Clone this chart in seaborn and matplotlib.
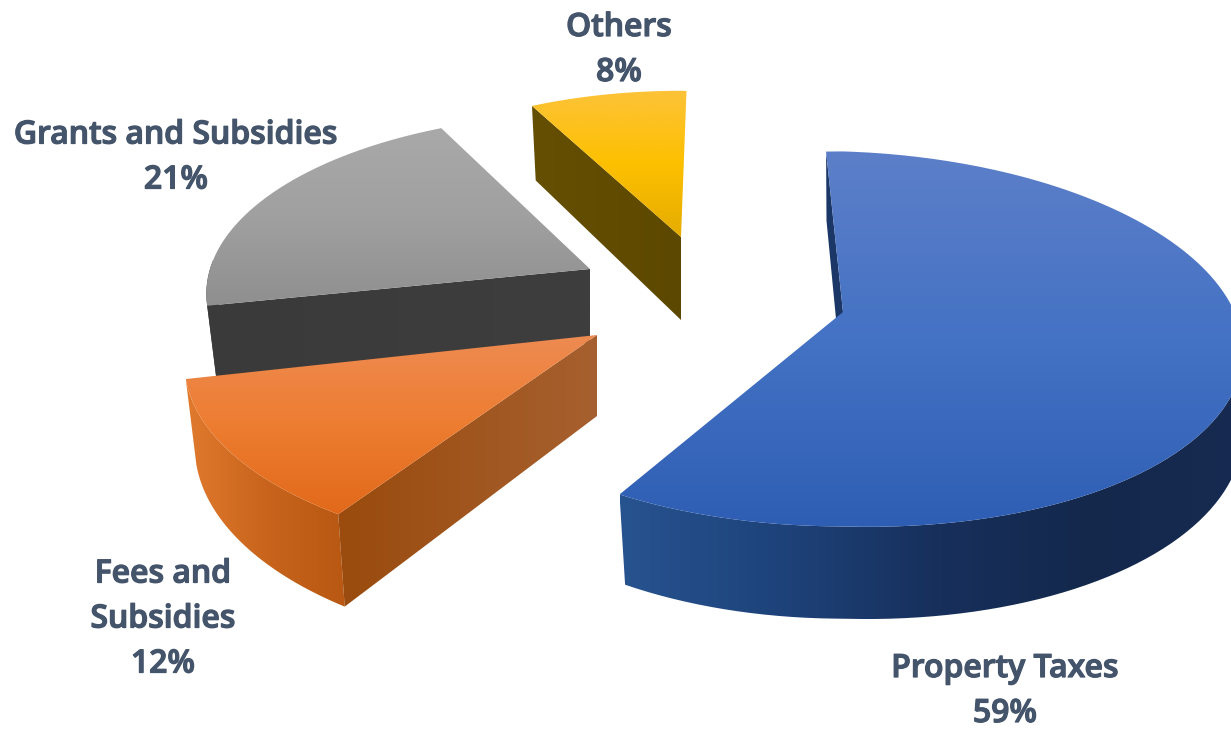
import numpy as np
import matplotlib
matplotlib.use("Agg")
import matplotlib.pyplot as plt
from matplotlib.path import Path
from matplotlib.patches import PathPatch
import matplotlib.patheffects as pe
import seaborn as sns

# Revenue shares
categories = ["Property Taxes", "Fees and\nSubsidies", "Grants and Subsidies", "Others"]
shares = [59, 12, 21, 8]

# Drawing styles, one entry per slice
APEX = [(843, 312), (597, 335), (590, 269), (681, 237)]
RADIUS = [0.99, 1.02, 0.95, 0.89]
DEPTH = [79, 81, 74, 83]
TURN = [0.0, 4.2, 5.5, 3.8]
LABEL_XY = [(1005, 691), (163, 619), (176, 157.5), (619, 50)]
TOP_COLORS = [
    ["#5d7fc9", "#4472c4", "#2e5eb4"],
    ["#ee8b52", "#ed7d31", "#e2691a"],
    ["#a9a9a9", "#a0a0a0", "#8f8f8f"],
    ["#fdc338", "#fdc000", "#e5ac00"],
]
WALL_COLORS = [
    ["#27538f", "#1e437b", "#17305c", "#14284c", "#172b52"],
    ["#e07a2e", "#c8641c", "#b85812"],
    ["#3b3b3b", "#3b3b3b"],
    ["#5f4a00", "#5f4a00"],
]
FACE_COLORS = [
    ["#1b3767", "#1b3767"],
    ["#9a4b0d", "#a6602f"],
    ["#3a3a3a", "#3e3e3e"],
    ["#654f02", "#5d4800"],
]
START_ANGLE = -2.8
SEMI_X, SEMI_Y, PERSPECTIVE = 400, 185.5, 0.145
RIGHT_SAG = 12
BOTTOM_SHRINK = 0.975
TEXT_COLOR = "#44546a"

sns.set_theme(style="white")
plt.rcParams["font.family"] = ["Open Sans", "DejaVu Sans"]

W, H = 1231, 732
fig = plt.figure(figsize=(W / 100, H / 100), dpi=100, facecolor="white")
ax = fig.add_axes([0, 0, 1, 1])


def rim(theta_deg, apex, radius):
    """Project points on a slice's rim onto the page, nearer parts drawn larger."""
    t = np.radians(theta_deg)
    u, v = radius * np.sin(t), radius * np.cos(t)
    f = 1 / (1 + PERSPECTIVE * v)
    x = apex[0] + SEMI_X * u * f
    y = apex[1] - SEMI_Y * v * f + RIGHT_SAG * np.maximum(u, 0) * f
    return x, y, f


def lower(x, y, f, apex, depth):
    """Move top-surface points down to the slice's lower surface."""
    left = x < apex[0]
    bx = np.where(left, apex[0] + (x - apex[0]) * BOTTOM_SHRINK, x)
    return bx, y + depth * f


def gradient_fill(xs, ys, colors, vertical, zorder):
    xs, ys = np.asarray(xs, float), np.asarray(ys, float)
    cmap = sns.blend_palette(colors, n_colors=256, as_cmap=True)
    ramp = np.linspace(0, 1, 256)
    ramp = ramp[:, None] if vertical else ramp[None, :]
    extent = (xs.min(), xs.max(), ys.max(), ys.min())
    img = ax.imshow(ramp, cmap=cmap, extent=extent, aspect="auto",
                    origin="upper", zorder=zorder, interpolation="bilinear")
    verts = np.column_stack([np.r_[xs, xs[0]], np.r_[ys, ys[0]]])
    patch = PathPatch(Path(verts, closed=False), transform=ax.transData,
                      facecolor="none", edgecolor="none")
    ax.add_patch(patch)
    img.set_clip_path(patch)


def draw_slice(i, start, end, base_z):
    apex, radius, depth = APEX[i], RADIUS[i], DEPTH[i]
    theta = np.linspace(start, end, 240)
    x, y, f = rim(theta, apex, radius)
    bx, by = lower(x, y, f, apex, depth)

    # Outer wall: only the part turned towards the viewer
    front = np.cos(np.radians(theta)) < 0.05
    if front.any():
        gradient_fill(np.r_[x[front], bx[front][::-1]], np.r_[y[front], by[front][::-1]],
                      WALL_COLORS[i], False, base_z)

    # Radial cut surface at the slice's leading edge
    gradient_fill([x[0], apex[0], apex[0], bx[0]], [y[0], apex[1], apex[1] + depth, by[0]],
                  FACE_COLORS[i], False, base_z + 0.1)

    # Top surface
    gradient_fill(np.r_[apex[0], x], np.r_[apex[1], y], TOP_COLORS[i], True, base_z + 0.2)


fractions = np.array(shares, float) / sum(shares) * 360
edges = START_ANGLE + np.r_[0, np.cumsum(fractions)]
paint_order = [3, 2, 1, 0]
for z, i in enumerate(paint_order):
    draw_slice(i, edges[i] + TURN[i], edges[i + 1] + TURN[i], z + 1)

for i, name in enumerate(categories):
    ax.text(LABEL_XY[i][0], LABEL_XY[i][1], f"{name}\n{shares[i]}%",
            ha="center", va="center", fontsize=23, fontweight=600,
            color=TEXT_COLOR, linespacing=1.48, zorder=10,
            path_effects=[pe.withStroke(linewidth=0.9, foreground=TEXT_COLOR)])

ax.set_xlim(0, W)
ax.set_ylim(H, 0)
ax.axis("off")
fig.savefig("out.png", dpi=100, facecolor="white")
